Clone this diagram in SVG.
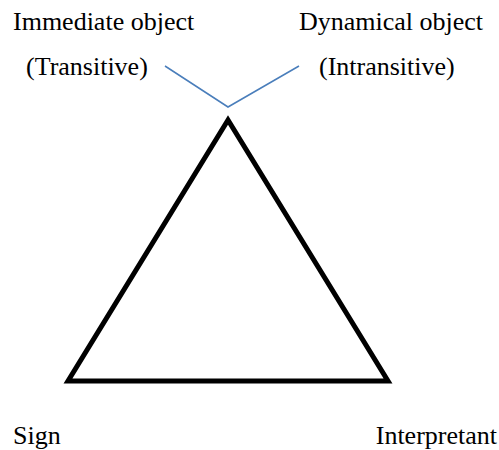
<svg xmlns="http://www.w3.org/2000/svg" width="499" height="450" viewBox="0 0 499 450">
<style>
.lbl{font-family:'Liberation Serif','DejaVu Serif',serif;font-size:26px;fill:#000}
.tri{fill:none;stroke:#000;stroke-width:5;stroke-linejoin:miter}
.link{fill:none;stroke:#4a7ebb;stroke-width:1.5}
</style>
<rect width="499" height="450" fill="#fff"/>
<g id="connectors">
<polyline class="link" points="165,66 228,107 299,66"/>
</g>
<g id="triangle">
<polygon class="tri" points="228,120 68,381 388,381"/>
</g>
<g id="immediate-object" class="lbl" font-family="Liberation Serif, serif">
<text x="13" y="30">Immediate object</text>
<text x="26" y="75">(Transitive)</text>
</g>
<g id="dynamical-object" class="lbl" font-family="Liberation Serif, serif">
<text x="299" y="30">Dynamical object</text>
<text x="319" y="75">(Intransitive)</text>
</g>
<g id="sign" class="lbl" font-family="Liberation Serif, serif">
<text x="13" y="444">Sign</text>
</g>
<g id="interpretant" class="lbl" font-family="Liberation Serif, serif">
<text x="497" y="444" text-anchor="end">Interpretant</text>
</g>
</svg>
